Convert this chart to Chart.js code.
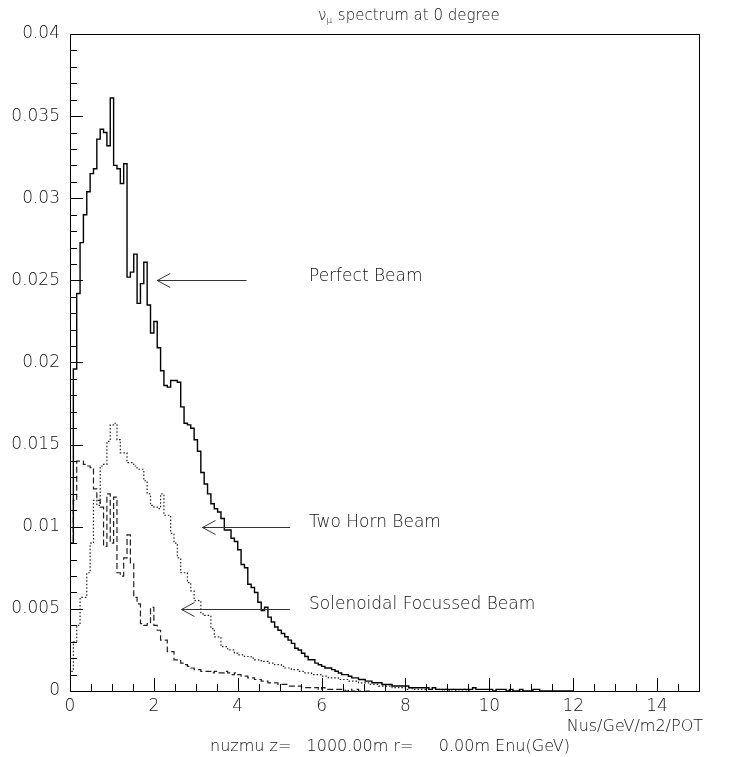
<!DOCTYPE html>
<html>
<head>
<meta charset="utf-8">
<script src="https://cdn.jsdelivr.net/npm/chart.js"></script>
<style>
  body { margin: 0; background: #fff; }
</style>
</head>
<body>
<canvas id="Chart" width="733" height="757"></canvas>
<script>
// histogram bins, 0.08 GeV wide, starting at 0
const binWidth = 0.08;

const perfectBeam = [
  0.0020, 0.0090, 0.0196, 0.0242, 0.0273, 0.0290, 0.0304, 0.0315, 0.0318, 0.0336,
  0.0342, 0.0340, 0.0332, 0.0361, 0.0320, 0.0318, 0.0309, 0.0321, 0.0252, 0.0255,
  0.0266, 0.0236, 0.0248, 0.0261, 0.0235, 0.0218, 0.0225, 0.0209, 0.0195, 0.0186,
  0.0185, 0.0189, 0.0189, 0.0188, 0.0173, 0.0163, 0.0162, 0.0160, 0.0153, 0.0146,
  0.0133, 0.0126, 0.0120, 0.0114, 0.0111, 0.0109, 0.0105, 0.0098, 0.0098, 0.0093,
  0.0091, 0.0086, 0.0077, 0.0075, 0.0065, 0.0063, 0.0060, 0.0054, 0.0049, 0.0051,
  0.0045, 0.0042, 0.0039, 0.0037, 0.0035, 0.0033, 0.0031, 0.0029, 0.0026, 0.0025,
  0.0023, 0.0021, 0.0019, 0.0019, 0.0017, 0.0016, 0.0015, 0.0014, 0.0014, 0.0013,
  0.0012, 0.0011, 0.0010, 0.0010, 0.0009, 0.0008, 0.0008, 0.0007, 0.0007, 0.0006,
  0.0006, 0.0005, 0.0005, 0.0005, 0.0004, 0.0004, 0.0004, 0.0003, 0.0003, 0.0003,
  0.0003, 0.0003, 0.0002, 0.0002, 0.0002, 0.0002, 0.0002, 0.0002, 0.0001, 0.0002,
  0.0001, 0.0001, 0.0001, 0.0001, 0.0001, 0.0001, 0.0001, 0.0001, 0.0001, 0.0001,
  0.0001, 0.0002, 0.0001, 0.0001, 0.0001, 0.0001, 0.0001, 0.0000, 0.0001, 0.0001,
  0.0001, 0.0000, 0.0001, 0.0000, 0.0000, 0.0001, 0.0000, 0.0000, 0.0000, 0.0001,
  0.0001, 0.0000, 0.0000, 0.0000, 0.0000, 0.0000, 0.0000, 0.0000, 0.0000, 0.0000
];

const twoHornBeam = [
  0.0003, 0.0012, 0.0030, 0.0040, 0.0057, 0.0057, 0.0072, 0.0090, 0.0116, 0.0113,
  0.0137, 0.0138, 0.0152, 0.0162, 0.0163, 0.0153, 0.0145, 0.0145, 0.0139, 0.0139,
  0.0137, 0.0135, 0.0135, 0.0128, 0.0120, 0.0113, 0.0112, 0.0111, 0.0120, 0.0107,
  0.0107, 0.0096, 0.0090, 0.0081, 0.0072, 0.0072, 0.0066, 0.0061, 0.0055, 0.0055,
  0.0047, 0.0046, 0.0046, 0.0038, 0.0033, 0.0033, 0.0027, 0.0027, 0.0025, 0.0025,
  0.0023, 0.0022, 0.0022, 0.0021, 0.0021, 0.0020, 0.0019, 0.0019, 0.0018, 0.0018,
  0.0017, 0.0017, 0.0016, 0.0016, 0.0015, 0.0014, 0.0014, 0.0013, 0.0013, 0.0012,
  0.0012, 0.0011, 0.0011, 0.0010, 0.0010, 0.0010, 0.0009, 0.0009, 0.0008, 0.0008,
  0.0008, 0.0007, 0.0007, 0.0007, 0.0006, 0.0006, 0.0006, 0.0005, 0.0005, 0.0005,
  0.0004, 0.0004, 0.0004, 0.0003, 0.0003, 0.0003, 0.0003, 0.0002, 0.0002, 0.0002,
  0.0002, 0.0001, 0.0002, 0.0001, 0.0001, 0.0001, 0.0001, 0.0001, 0.0001, 0.0001,
  0.0001, 0.0001, 0.0000, 0.0001, 0.0000, 0.0001, 0.0000, 0.0000, 0.0001, 0.0000
];

const solenoidalBeam = [
  0.0030, 0.0090, 0.0116, 0.0140, 0.0140, 0.0138, 0.0137, 0.0136, 0.0123, 0.0116,
  0.0112, 0.0088, 0.0120, 0.0090, 0.0118, 0.0072, 0.0070, 0.0081, 0.0095, 0.0078,
  0.0057, 0.0053, 0.0041, 0.0040, 0.0041, 0.0051, 0.0040, 0.0037, 0.0031, 0.0031,
  0.0024, 0.0024, 0.0019, 0.0019, 0.0017, 0.0016, 0.0015, 0.0014, 0.0013, 0.0013,
  0.0012, 0.0012, 0.0012, 0.0011, 0.0012, 0.0011, 0.0011, 0.0012, 0.0011, 0.0010,
  0.0011, 0.0010, 0.0009, 0.0009, 0.0008, 0.0008, 0.0007, 0.0007, 0.0006, 0.0006,
  0.0005, 0.0005, 0.0005, 0.0004, 0.0004, 0.0004, 0.0003, 0.0003, 0.0003, 0.0003,
  0.0002, 0.0002, 0.0002, 0.0002, 0.0002, 0.0001, 0.0002, 0.0001, 0.0001, 0.0001,
  0.0001, 0.0001, 0.0001, 0.0000, 0.0001, 0.0000, 0.0001, 0.0000, 0.0000, 0.0000
];

// arrows + labels (GeV / y value)
const beamLabels = ["Perfect Beam", "Two Horn Beam", "Solenoidal Focussed Beam"];
const arrowLevel = [0.025, 0.01, 0.005];
const arrowStart = [4.21, 5.25, 5.25];
const arrowTip = [2.08, 3.16, 2.66];
const labelStart = 5.7;

const xMajor = [0, 2, 4, 6, 8, 10, 12, 14];
const xMinorStep = 0.5;
const yMajorStep = 0.005;
const yMinorStep = 0.001;

const FONT = '"DejaVu Sans", sans-serif';

function histPoints(vals) {
  const pts = [{x: 0, y: 0}];
  vals.forEach((v, i) => pts.push({x: i * binWidth, y: v}));
  pts.push({x: vals.length * binWidth, y: vals[vals.length - 1]});
  pts.push({x: vals.length * binWidth, y: 0});
  return pts;
}

const decorations = {
  id: 'decorations',
  afterDraw(chart) {
    const ctx = chart.ctx;
    const a = chart.chartArea;
    const xs = chart.scales.x, ys = chart.scales.y;
    ctx.save();
    ctx.strokeStyle = '#000';
    ctx.lineWidth = 1;

    // frame
    ctx.strokeRect(Math.round(a.left) + 0.5, Math.round(a.top) + 0.5,
      Math.round(a.right - a.left), Math.round(a.bottom - a.top));

    // inner ticks
    ctx.beginPath();
    for (let v = 0; v <= 0.04 + 1e-9; v += yMinorStep) {
      const y = Math.round(ys.getPixelForValue(v)) + 0.5;
      const major = Math.abs(v / yMajorStep - Math.round(v / yMajorStep)) < 1e-6;
      ctx.moveTo(a.left, y);
      ctx.lineTo(a.left + (major ? 13 : 7), y);
    }
    for (let v = 0; v <= 15 + 1e-9; v += xMinorStep) {
      const x = Math.round(xs.getPixelForValue(v)) + 0.5;
      const major = xMajor.includes(v);
      ctx.moveTo(x, a.bottom);
      ctx.lineTo(x, a.bottom - (major ? 13 : 7));
    }
    ctx.stroke();

    // arrows
    ctx.strokeStyle = '#333';
    arrowLevel.forEach((lv, i) => {
      const y = Math.round(ys.getPixelForValue(lv)) + 0.5;
      const x0 = xs.getPixelForValue(arrowStart[i]);
      const x1 = xs.getPixelForValue(arrowTip[i]);
      ctx.beginPath();
      ctx.moveTo(x0, y);
      ctx.lineTo(x1, y);
      ctx.moveTo(x1 + 13, y - 7);
      ctx.lineTo(x1, y);
      ctx.lineTo(x1 + 13, y + 7);
      ctx.stroke();
    });

    // labels
    ctx.fillStyle = '#111';
    ctx.font = '200 17px ' + FONT;
    ctx.textBaseline = 'middle';
    ctx.textAlign = 'left';
    beamLabels.forEach((t, i) => {
      ctx.fillText(t, xs.getPixelForValue(labelStart), ys.getPixelForValue(arrowLevel[i]) - 4);
    });

    // title with subscript
    ctx.textBaseline = 'alphabetic';
    let tx = 318;
    ctx.font = '200 15px ' + FONT;
    ctx.fillText('\u03BD', tx, 20);
    tx += ctx.measureText('\u03BD').width;
    ctx.font = '200 9px ' + FONT;
    ctx.fillText('\u03BC', tx, 23);
    tx += ctx.measureText('\u03BC').width + 1;
    ctx.font = '200 15px ' + FONT;
    ctx.fillText(' spectrum at 0 degree', tx, 20);

    // axis captions
    ctx.font = '200 16px ' + FONT;
    ctx.textAlign = 'right';
    ctx.fillText('Nus/GeV/m2/POT', 703, 731);
    ctx.textAlign = 'left';
    ctx.fillText('nuzmu z=   1000.00m r=     0.00m Enu(GeV)', 210, 751);
    ctx.restore();
  }
};

new Chart("Chart", {
  type: "line",
  data: {
    datasets: [{
      data: histPoints(perfectBeam),
      borderColor: "#000",
      borderWidth: 1.4,
      stepped: 'after',
      pointRadius: 0,
      fill: false
    }, {
      data: histPoints(twoHornBeam),
      borderColor: "#222",
      borderWidth: 1.2,
      borderDash: [1.5, 2],
      stepped: 'after',
      pointRadius: 0,
      fill: false
    }, {
      data: histPoints(solenoidalBeam),
      borderColor: "#222",
      borderWidth: 1.2,
      borderDash: [6, 3],
      stepped: 'after',
      pointRadius: 0,
      fill: false
    }]
  },
  options: {
    responsive: false,
    animation: false,
    devicePixelRatio: 1,
    layout: {padding: {top: 34, right: 34, left: 0, bottom: 0}},
    plugins: {legend: {display: false}, tooltip: {enabled: false}},
    scales: {
      x: {
        type: 'linear', min: 0, max: 15,
        grid: {display: true, drawOnChartArea: false, drawTicks: false},
        border: {display: false},
        ticks: {stepSize: 2, includeBounds: false, padding: 5, color: '#111', maxRotation: 0,
                font: {family: FONT, size: 17, weight: 200}},
        afterFit(scale) { scale.height = 66; }
      },
      y: {
        min: 0, max: 0.04,
        grid: {display: true, drawOnChartArea: false, drawTicks: false},
        border: {display: false},
        ticks: {stepSize: 0.005, padding: 10, color: '#111',
                font: {family: FONT, size: 17, weight: 200},
                callback: v => v === 0 ? '0' : String(parseFloat(v.toFixed(3)))},
        afterFit(scale) { scale.width = 70; }
      }
    }
  },
  plugins: [decorations]
});
</script>
</body>
</html>
